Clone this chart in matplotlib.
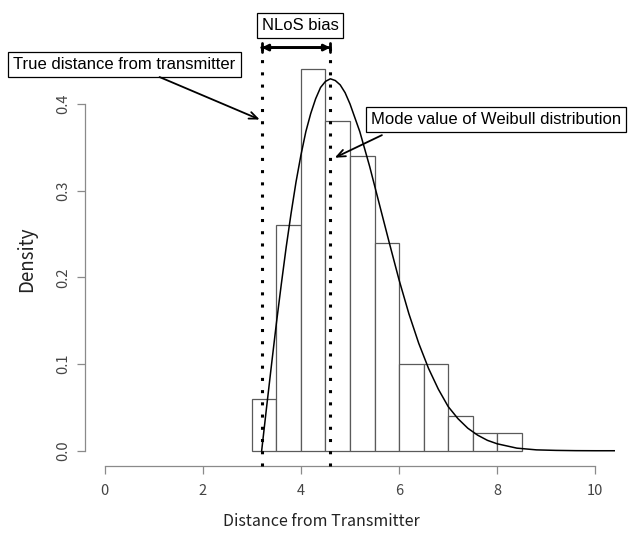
import matplotlib
matplotlib.use("Agg")
import matplotlib.pyplot as plt

# histogram of measured distances (density, bin width 0.5)
bin_left = [3.0, 3.5, 4.0, 4.5, 5.0, 5.5, 6.0, 6.5, 7.0, 7.5, 8.0]
density = [0.06, 0.26, 0.44, 0.38, 0.34, 0.24, 0.10, 0.10, 0.04, 0.02, 0.02]
bin_width = 0.5

# fitted Weibull density
curve_x = [3.2, 3.3, 3.4, 3.5, 3.6, 3.7, 3.8, 3.9, 4.0, 4.1, 4.2, 4.3, 4.4,
           4.5, 4.6, 4.7, 4.8, 4.9, 5.0, 5.2, 5.4, 5.6, 5.8, 6.0, 6.2, 6.4,
           6.6, 6.8, 7.0, 7.2, 7.4, 7.6, 7.8, 8.0, 8.4, 8.8, 9.2, 9.6, 10.0, 10.4]
curve_y = [0.0, 0.050, 0.099, 0.147, 0.192, 0.235, 0.274, 0.310, 0.341, 0.368,
           0.389, 0.406, 0.419, 0.426, 0.429, 0.427, 0.422, 0.413, 0.400, 0.368,
           0.328, 0.284, 0.240, 0.197, 0.158, 0.124, 0.095, 0.071, 0.051, 0.037,
           0.026, 0.018, 0.012, 0.008, 0.003, 0.001, 0.0004, 0.0001, 0.0, 0.0]

true_dist = 3.2
mode_dist = 4.6

xticks = [0, 2, 4, 6, 8, 10]
yticks = [0.0, 0.1, 0.2, 0.3, 0.4]

axis_grey = "#8a8a8a"
label_font = ["Noto Sans CJK JP", "DejaVu Sans"]
note_font = ["Liberation Sans", "DejaVu Sans"]

fig = plt.figure(figsize=(6.39, 5.33), dpi=100)
ax = fig.add_axes([85 / 639, 1 - 466 / 533, 530 / 639, 412 / 533])

ax.bar(bin_left, density, width=bin_width, align="edge",
       facecolor="white", edgecolor="#5a5a5a", linewidth=0.9, zorder=1)
ax.plot(curve_x, curve_y, color="black", linewidth=1.1, zorder=3)

# dotted markers for true distance and mode
for xv in (true_dist, mode_dist):
    ax.plot([xv, xv], [-0.018, 0.465], color="black", linewidth=2.2,
            linestyle=(0, (1, 3)), clip_on=False, zorder=4)

ax.set_xlim(-0.4, 10.4)
ax.set_ylim(-0.0176, 0.4576)

for s in ("top", "right"):
    ax.spines[s].set_visible(False)
ax.spines["left"].set_bounds(0, 0.4)
ax.spines["bottom"].set_bounds(0, 10)
for s in ("left", "bottom"):
    ax.spines[s].set_color(axis_grey)
    ax.spines[s].set_linewidth(0.9)

ax.set_xticks(xticks)
ax.set_xticklabels([str(t) for t in xticks])
ax.set_yticks(yticks)
ax.set_yticklabels([f"{t:.1f}" for t in yticks])
ax.tick_params(axis="both", direction="out", length=5.8, width=0.9,
               color=axis_grey, labelcolor="#444444", labelsize=10.5)
ax.tick_params(axis="x", pad=7)
ax.tick_params(axis="y", pad=5, labelrotation=90)
for lab in ax.get_xticklabels() + ax.get_yticklabels():
    lab.set_family(label_font)
for lab in ax.get_yticklabels():
    lab.set_va("center")

fig.text(321 / 639, 1 - 522 / 533, "Distance from Transmitter",
         ha="center", va="center", fontsize=11.5, color="#222222",
         family=label_font)
fig.text(27 / 639, 1 - 259 / 533, "Density", rotation=90,
         ha="center", va="center", fontsize=13.5, color="#222222",
         family=label_font)

box = dict(boxstyle="square,pad=0.3", facecolor="white",
           edgecolor="black", linewidth=0.9)

# NLoS bias label and double arrow
ax.text(3.98, 0.490, "NLoS bias", ha="center", va="center", fontsize=12,
        family=note_font, bbox=box, clip_on=False)
ax.annotate("", xy=(mode_dist, 0.465), xytext=(true_dist, 0.465),
            arrowprops=dict(arrowstyle="<|-|>", lw=2, color="black",
                            mutation_scale=9, shrinkA=0, shrinkB=0),
            annotation_clip=False)
ax.annotate("", xy=(mode_dist, 0.465), xytext=(true_dist, 0.465),
            arrowprops=dict(arrowstyle="|-|,widthA=0.35,widthB=0.35", lw=2,
                            color="black", shrinkA=0, shrinkB=0),
            annotation_clip=False)

# true distance label
ax.text(-1.86, 0.445, "True distance from transmitter", ha="left",
        va="center", fontsize=12, family=note_font, bbox=box, clip_on=False)
ax.annotate("", xy=(3.16, 0.382), xytext=(1.12, 0.431),
            arrowprops=dict(arrowstyle="->,head_length=0.6,head_width=0.25",
                            lw=1.3, color="black", shrinkA=0, shrinkB=0),
            annotation_clip=False)

# mode label
ax.text(5.42, 0.382, "Mode value of Weibull distribution", ha="left",
        va="center", fontsize=12, family=note_font, bbox=box, clip_on=False)
ax.annotate("", xy=(4.69, 0.338), xytext=(5.65, 0.364),
            arrowprops=dict(arrowstyle="->,head_length=0.6,head_width=0.25",
                            lw=1.3, color="black", shrinkA=0, shrinkB=0),
            annotation_clip=False)

fig.savefig("out.png", dpi=100)
